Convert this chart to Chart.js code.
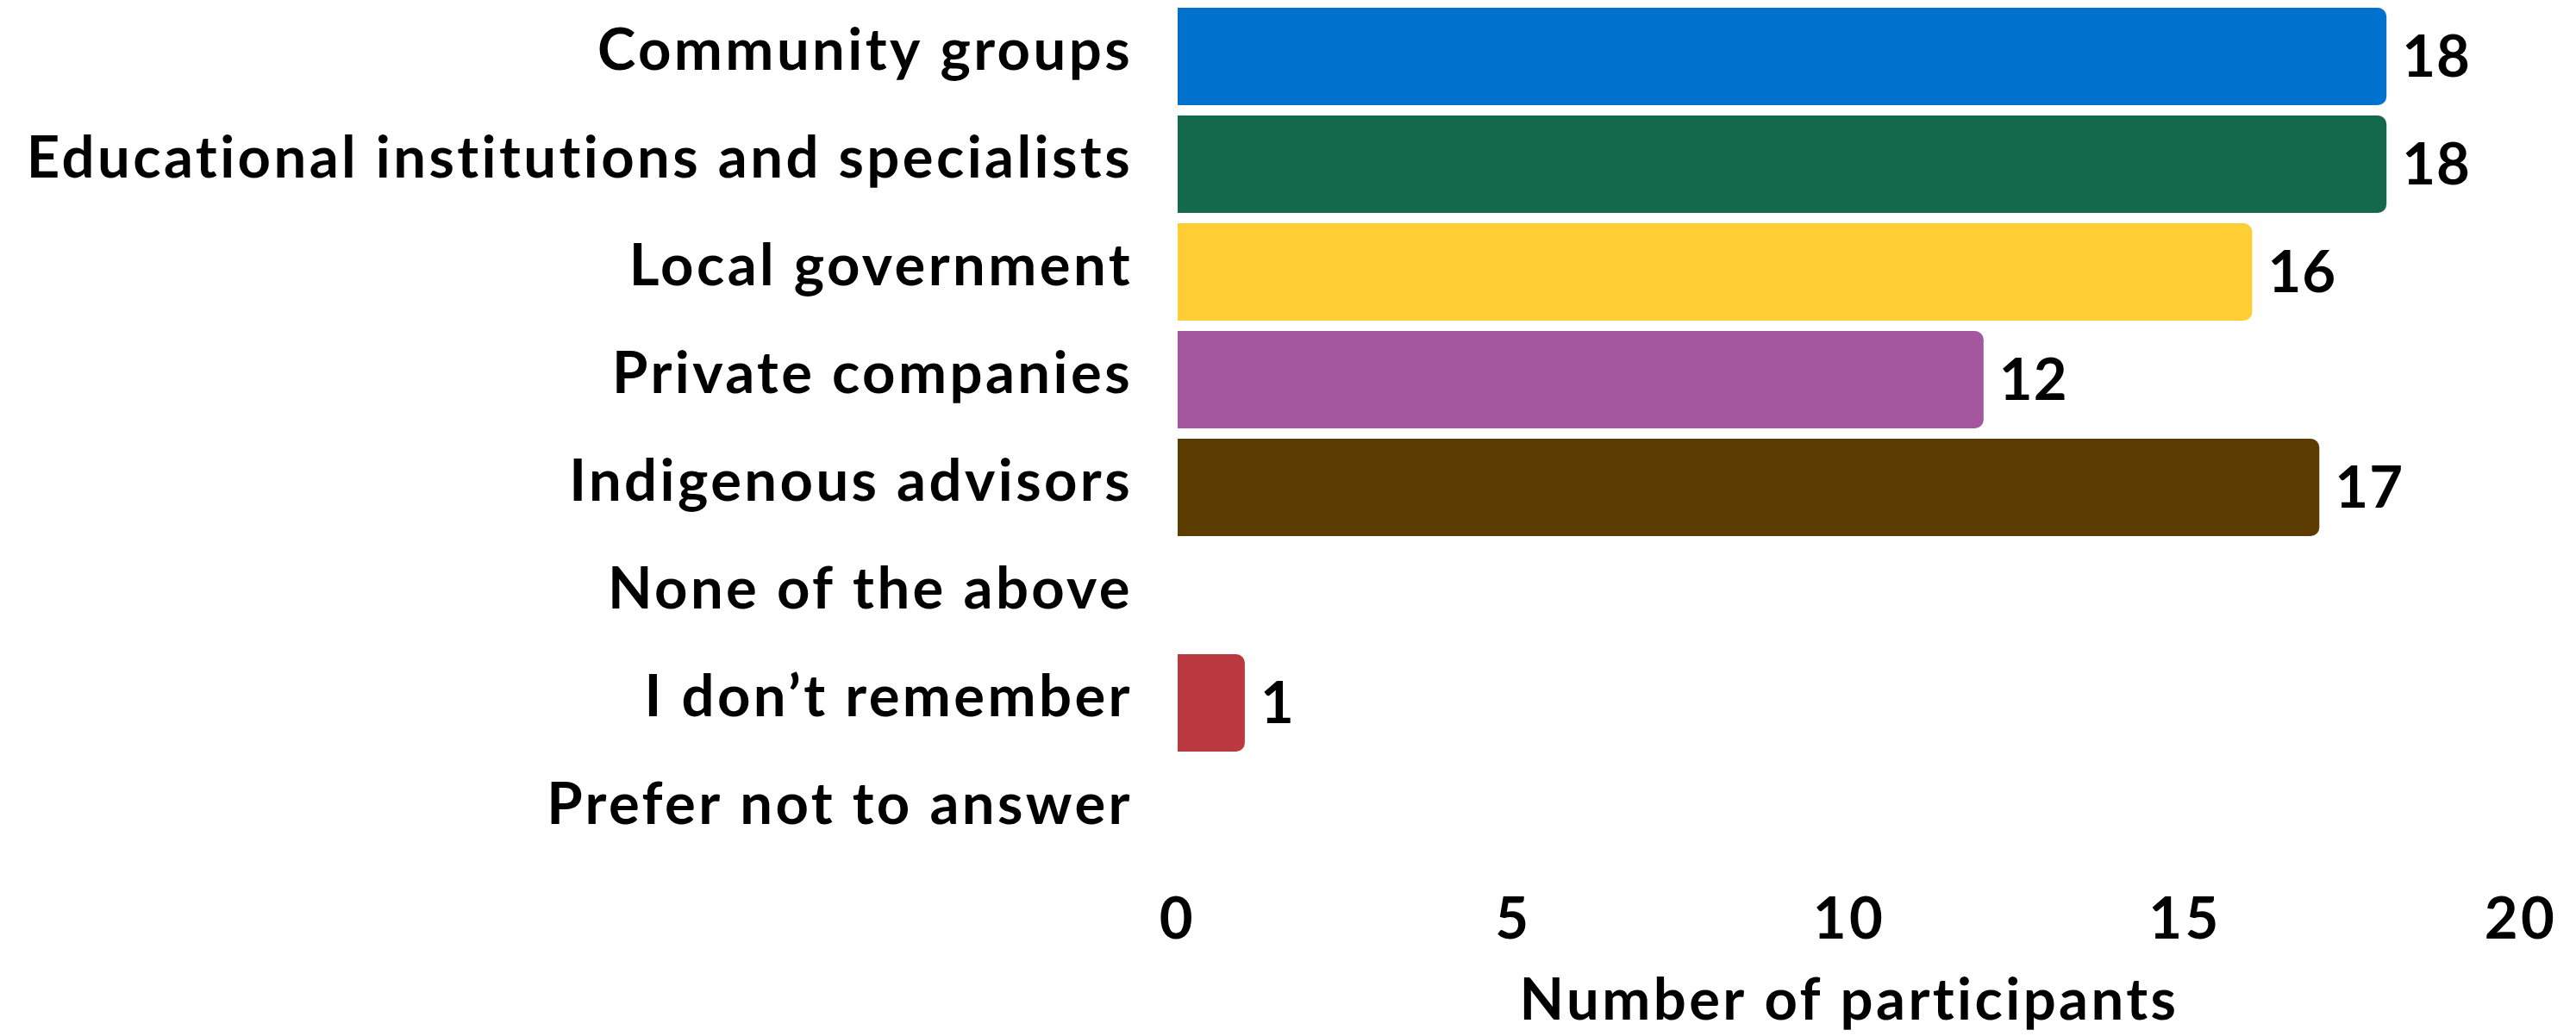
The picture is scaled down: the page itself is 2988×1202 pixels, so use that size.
<!DOCTYPE html>
<html>
<head>
<meta charset="utf-8">
<script src="https://cdn.jsdelivr.net/npm/chart.js@4/dist/chart.umd.min.js"></script>
<style>
  html, body { margin: 0; padding: 0; background: #ffffff; }
  #wrap { width: 2988px; height: 1202px; position: relative; }
</style>
</head>
<body>
<div id="wrap"><canvas id="chart"></canvas></div>
<script>
// Survey responses: who participants worked with
const categories = [
  'Community groups',
  'Educational institutions and specialists',
  'Local government',
  'Private companies',
  'Indigenous advisors',
  'None of the above',
  'I don\u2019t remember',
  'Prefer not to answer'
];
const participants = [18, 18, 16, 12, 17, 0, 1, 0];
const barColors = ['#0072CE', '#14684C', '#FFCD34', '#A4579E', '#5C3C00', '#000000', '#BB3A42', '#000000'];
const xTicks = [0, 5, 10, 15, 20];
const xTitle = 'Number of participants';

const FONT = 'Lato';
const SIZE = 67;
const SPACING = '3.4px';

// Slightly open tracking for all chart text
const tracking = {
  id: 'tracking',
  beforeUpdate(chart) { chart.ctx.letterSpacing = SPACING; },
  beforeLayout(chart) { chart.ctx.letterSpacing = SPACING; },
  beforeDraw(chart) { chart.ctx.letterSpacing = SPACING; }
};

// Writes each non-zero count just past the end of its bar
const valueLabels = {
  id: 'valueLabels',
  afterDatasetsDraw(chart) {
    const ctx = chart.ctx;
    const meta = chart.getDatasetMeta(0);
    ctx.save();
    ctx.letterSpacing = '1px';
    ctx.font = `bold ${SIZE}px ${FONT}`;
    ctx.fillStyle = '#000000';
    ctx.textAlign = 'left';
    ctx.textBaseline = 'middle';
    meta.data.forEach((bar, i) => {
      const v = participants[i];
      if (!v) return;
      ctx.fillText(String(v), bar.x + 18, bar.y + 2);
    });
    ctx.restore();
  }
};

new Chart(document.getElementById('chart'), {
  type: 'bar',
  data: {
    labels: categories,
    datasets: [{
      data: participants,
      backgroundColor: barColors,
      borderRadius: 10,
      borderSkipped: 'start',
      barPercentage: 0.904,
      categoryPercentage: 1
    }]
  },
  options: {
    indexAxis: 'y',
    responsive: true,
    maintainAspectRatio: false,
    animation: false,
    layout: { padding: { top: 3, right: 64, bottom: 0, left: 0 } },
    plugins: { legend: { display: false }, tooltip: { enabled: false } },
    scales: {
      x: {
        min: 0,
        max: 20,
        afterBuildTicks(scale) { scale.ticks = xTicks.map(v => ({ value: v })); },
        afterFit(scale) {
          scale.height = 199;
          scale.paddingLeft = 0;
          scale.paddingRight = 0;
        },
        grid: { display: false, drawTicks: false },
        border: { display: false },
        ticks: {
          color: '#000000',
          padding: 24,
          font: { family: FONT, size: SIZE, weight: 'bold' }
        },
        title: {
          display: true,
          text: xTitle,
          color: '#000000',
          padding: { top: 0, bottom: 0 },
          font: { family: FONT, size: SIZE, weight: 'bold' }
        }
      },
      y: {
        afterFit(scale) {
          scale.width = 1366;
          scale.paddingTop = 0;
          scale.paddingBottom = 0;
        },
        grid: { display: false, drawTicks: false },
        border: { display: false },
        ticks: {
          color: '#000000',
          padding: 52,
          labelOffset: -6,
          font: { family: FONT, size: SIZE, weight: 'bold' }
        }
      }
    }
  },
  plugins: [tracking, valueLabels]
});
</script>
</body>
</html>
